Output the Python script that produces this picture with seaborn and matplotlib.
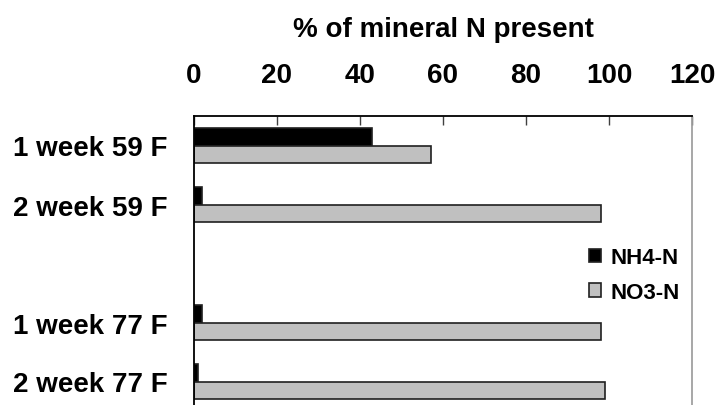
import numpy as np
import pandas as pd
import matplotlib
matplotlib.use('Agg')
import matplotlib.pyplot as plt
import seaborn as sns

# values
conditions = ['1 week 59 F', '2 week 59 F', '1 week 77 F', '2 week 77 F']
nh4_pct = [43, 2, 2, 1]
no3_pct = [57, 98, 98, 99]
forms = ['NH4-N', 'NO3-N']
x_ticks = [0, 20, 40, 60, 80, 100, 120]

# blank slot between the two temperatures
order = conditions[:2] + [' '] + conditions[2:]

df = pd.DataFrame({
    'condition': conditions * 2,
    'form': [forms[0]] * len(conditions) + [forms[1]] * len(conditions),
    'pct': nh4_pct + no3_pct,
})

sns.set_style('white')
plt.rcParams['font.family'] = ['Liberation Sans', 'DejaVu Sans']
plt.rcParams['font.weight'] = 'bold'
plt.rcParams['text.color'] = 'black'
plt.rcParams['axes.labelcolor'] = 'black'
plt.rcParams['xtick.labelcolor'] = 'black'
plt.rcParams['ytick.labelcolor'] = 'black'

fig = plt.figure(figsize=(7.2, 4.06), dpi=100)
ax = fig.add_axes([194 / 720, -6 / 406, 498 / 720, 295 / 406])

sns.barplot(data=df, y='condition', x='pct', hue='form', order=order,
            hue_order=forms, palette=['black', '#c0c0c0'], width=0.6,
            edgecolor='#202020', linewidth=1.2, errorbar=None, ax=ax)

ax.set_xlim(0, 120)
ax.set_ylim(4.5, -0.5)
ax.set_xticks(x_ticks)
ax.xaxis.tick_top()
ax.xaxis.set_label_position('top')
ax.tick_params(axis='x', direction='in', length=6.5, width=1, color='#404040',
               pad=20, labelsize=20)
ax.tick_params(axis='y', length=0, pad=19, labelsize=20)
for lab in ax.get_xticklabels() + ax.get_yticklabels():
    lab.set_fontweight('bold')

ax.set_xlabel('% of mineral N present', fontsize=20, fontweight='bold', labelpad=19)
ax.set_ylabel('')

for side in ['top', 'left']:
    ax.spines[side].set_color('black')
    ax.spines[side].set_linewidth(1.3)
ax.spines['right'].set_color('#a0a0a0')
ax.spines['right'].set_linewidth(1.3)
ax.spines['bottom'].set_visible(False)

leg = ax.legend(loc='center left', bbox_to_anchor=((578 - 194) / 498, (412 - 276) / 295),
                frameon=False, prop={'weight': 'bold', 'size': 16},
                handlelength=0.55, handleheight=0.55,
                handletextpad=0.4, labelspacing=0.6, borderpad=0)
for t in leg.get_texts():
    t.set_fontweight('bold')

fig.savefig('out.png', dpi=100)
